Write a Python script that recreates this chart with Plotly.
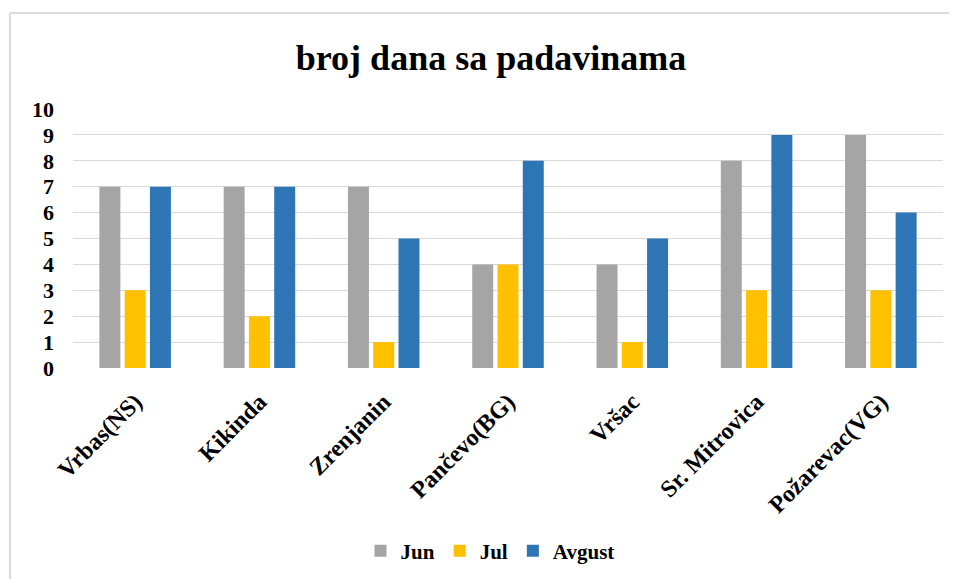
import plotly.graph_objects as go

categories = ["Vrbas(NS)", "Kikinda", "Zrenjanin", "Pančevo(BG)", "Vršac", "Sr. Mitrovica", "Požarevac(VG)"]
jun = [7, 7, 7, 4, 4, 8, 9]
jul = [3, 2, 1, 4, 1, 3, 3]
avgust = [7, 7, 5, 8, 5, 9, 6]
y_ticks = list(range(0, 11))

FONT = "Liberation Serif"
OFF = 8  # page body margin
W, H = 957 - OFF, 579 - OFF

PL, PR, PT, PB = 73 - OFF, 943 - OFF, 109 - OFF, 368 - OFF
PW, PH = PR - PL, PB - PT

fig = go.Figure()
for name, vals, col in [("Jun", jun, "#A5A5A5"), ("Jul", jul, "#FFC000"), ("Avgust", avgust, "#2E75B6")]:
    fig.add_trace(go.Bar(x=categories, y=vals, name=name, marker=dict(color=col, line=dict(width=0))))

fig.update_layout(
    width=W, height=H,
    margin=dict(l=PL, r=W - PR, t=PT, b=H - PB, autoexpand=False),
    paper_bgcolor="white", plot_bgcolor="white",
    barmode="group", bargap=0.39, bargroupgap=0.17,
    title=dict(text="broj dana sa padavinama", x=(491 - OFF) / W, xanchor="center",
               y=1 - (57 - OFF) / H, yanchor="middle", yref="container", xref="container",
               font=dict(family=FONT, size=36, color="#000000", weight="bold")),
    legend=dict(orientation="h", x=(490 - OFF) / W, xanchor="center", y=1 - (551 - OFF) / H, yanchor="middle",
                xref="container", yref="container",
                font=dict(family=FONT, size=21, color="#000000", weight="bold"),
                itemwidth=30, traceorder="normal"),
    showlegend=True,
)
fig.update_yaxes(range=[0, 10], tickvals=y_ticks, ticktext=[str(v) for v in y_ticks],
                 showgrid=True, gridcolor="#D9D9D9", gridwidth=1, zeroline=False,
                 showline=False, ticks="", ticklabelstandoff=18,
                 tickfont=dict(family=FONT, size=22, color="#000000", weight="bold"))
fig.update_xaxes(tickangle=-45, showline=False, ticks="", showgrid=False, ticklabelstandoff=14,
                 tickfont=dict(family=FONT, size=24, color="#000000", weight="bold"))

# outer chart frame (left & top edges visible in reference)
fx = (10 - OFF - PL) / PW
fy = 1 + (PT - (13 - OFF)) / PH
fyb = -(H - PB + 5) / PH
fig.add_shape(type="line", xref="paper", yref="paper", x0=fx, x1=1 + 20 / PW, y0=fy, y1=fy,
              line=dict(color="#D9D9D9", width=2))
fig.add_shape(type="line", xref="paper", yref="paper", x0=fx, x1=fx, y0=fy, y1=fyb,
              line=dict(color="#D9D9D9", width=2))

fig.write_html("out.html")
